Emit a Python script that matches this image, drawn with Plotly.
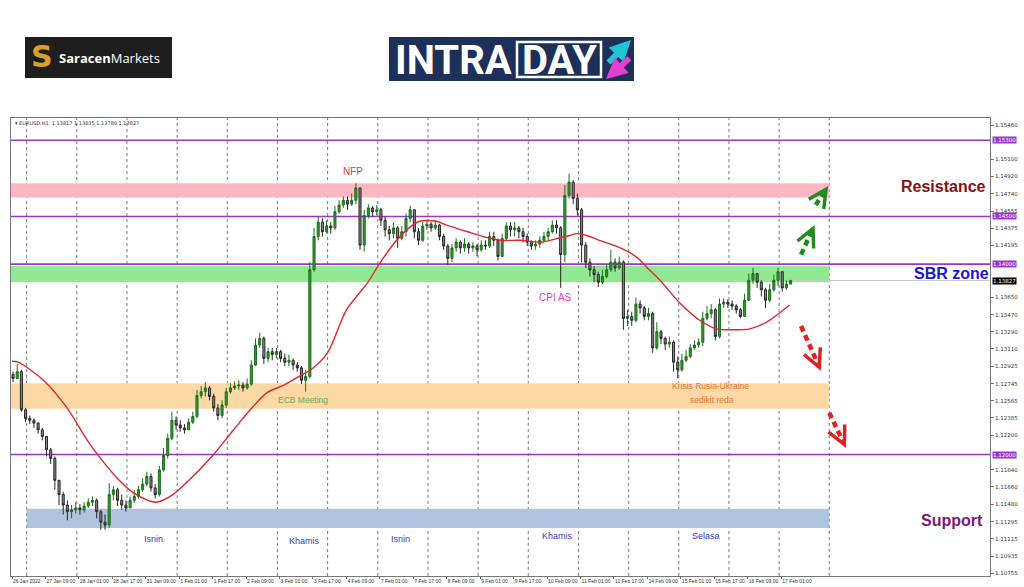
import math
import plotly.graph_objects as go

# ---------------- data ----------------
# 2-hour candles, centre of candle k sits at hourly bar index 2k+0.5
first_open = 1.1284
closes = [
    1.1280, 1.1287, 1.1247, 1.1238, 1.1236, 1.1233, 1.1226, 1.1219, 1.1205, 1.1196,
    1.1173, 1.1158, 1.1147, 1.1140, 1.1142, 1.1144, 1.1142, 1.1146, 1.1150, 1.1152,
    1.1140, 1.1129, 1.1126, 1.1158, 1.1163, 1.1152, 1.1147, 1.1144, 1.1152, 1.1156,
    1.1163, 1.1169, 1.1177, 1.1165, 1.1158, 1.1184, 1.1199, 1.1217, 1.1236, 1.1231,
    1.1228, 1.1226, 1.1234, 1.1240, 1.1262, 1.1266, 1.1270, 1.1261, 1.1249, 1.1241,
    1.1252, 1.1266, 1.1270, 1.1272, 1.1273, 1.1270, 1.1274, 1.1294, 1.1315, 1.1322,
    1.1301, 1.1308, 1.1305, 1.1308, 1.1301, 1.1297, 1.1299, 1.1294, 1.1291, 1.1278,
    1.1282, 1.1394, 1.1429, 1.1444, 1.1434, 1.1440, 1.1438, 1.1455, 1.1462, 1.1467,
    1.1463, 1.1467, 1.1480, 1.1420, 1.1451, 1.1459, 1.1455, 1.1457, 1.1446, 1.1436,
    1.1432, 1.1438, 1.1427, 1.1434, 1.1448, 1.1457, 1.1434, 1.1425, 1.1440, 1.1442,
    1.1438, 1.1441, 1.1429, 1.1419, 1.1406, 1.1417, 1.1423, 1.1417, 1.1421, 1.1417,
    1.1419, 1.1415, 1.1420, 1.1419, 1.1429, 1.1425, 1.1408, 1.1427, 1.1440, 1.1436,
    1.1438, 1.1434, 1.1429, 1.1423, 1.1419, 1.1421, 1.1425, 1.1429, 1.1434, 1.1441,
    1.1438, 1.1410, 1.1472, 1.1486, 1.1469, 1.1457, 1.1420, 1.1402, 1.1394, 1.1389,
    1.1381, 1.1387, 1.1394, 1.1402, 1.1396, 1.1402, 1.1343, 1.1345, 1.1341, 1.1358,
    1.1354, 1.1345, 1.1348, 1.1312, 1.1329, 1.1322, 1.1316, 1.1318, 1.1297, 1.1289,
    1.1299, 1.1303, 1.1312, 1.1315, 1.1318, 1.1343, 1.1348, 1.1352, 1.1324, 1.1358,
    1.1360, 1.1358, 1.1356, 1.1352, 1.1345, 1.1362, 1.1383, 1.1390, 1.1381, 1.1373,
    1.1362, 1.1373, 1.1383, 1.1392, 1.1375, 1.1379, 1.13827,
]
highs = [
    1.1287, 1.1295, 1.1289, 1.1249, 1.1241, 1.1238, 1.1234, 1.1228, 1.1219, 1.1207,
    1.1198, 1.1173, 1.1161, 1.1152, 1.1147, 1.1150, 1.1148, 1.1150, 1.1154, 1.1156,
    1.1154, 1.1142, 1.1137, 1.1170, 1.1167, 1.1165, 1.1158, 1.1152, 1.1156, 1.1163,
    1.1167, 1.1175, 1.1182, 1.1180, 1.1169, 1.1188, 1.1207, 1.1222, 1.1245, 1.1240,
    1.1236, 1.1232, 1.1238, 1.1245, 1.1268, 1.1272, 1.1276, 1.1272, 1.1264, 1.1253,
    1.1257, 1.1270, 1.1275, 1.1277, 1.1278, 1.1276, 1.1280, 1.1299, 1.1322, 1.1328,
    1.1324, 1.1312, 1.1312, 1.1312, 1.1310, 1.1306, 1.1305, 1.1301, 1.1297, 1.1293,
    1.1289, 1.1402, 1.1438, 1.1450, 1.1448, 1.1446, 1.1444, 1.1461, 1.1467, 1.1471,
    1.1471, 1.1474, 1.1485, 1.1478, 1.1457, 1.1463, 1.1461, 1.1462, 1.1459, 1.1450,
    1.1440, 1.1444, 1.1440, 1.1440, 1.1453, 1.1461, 1.1455, 1.1438, 1.1444, 1.1446,
    1.1444, 1.1446, 1.1442, 1.1432, 1.1421, 1.1421, 1.1427, 1.1425, 1.1427, 1.1423,
    1.1423, 1.1421, 1.1425, 1.1425, 1.1434, 1.1434, 1.1427, 1.1432, 1.1444, 1.1444,
    1.1444, 1.1440, 1.1438, 1.1432, 1.1425, 1.1425, 1.1429, 1.1434, 1.1438, 1.1446,
    1.1446, 1.1440, 1.1483, 1.1495, 1.1488, 1.1474, 1.1459, 1.1423, 1.1406, 1.1398,
    1.1392, 1.1394, 1.1400, 1.1415, 1.1406, 1.1408, 1.1404, 1.1352, 1.1350, 1.1365,
    1.1362, 1.1356, 1.1354, 1.1350, 1.1339, 1.1331, 1.1324, 1.1324, 1.1320, 1.1303,
    1.1306, 1.1310, 1.1316, 1.1320, 1.1322, 1.1350, 1.1356, 1.1358, 1.1354, 1.1364,
    1.1364, 1.1363, 1.1362, 1.1358, 1.1354, 1.1369, 1.1390, 1.1396, 1.1390, 1.1383,
    1.1375, 1.1379, 1.1389, 1.1396, 1.1390, 1.1383, 1.13835,
]
lows = [
    1.1276, 1.1280, 1.1245, 1.1234, 1.1232, 1.1228, 1.1222, 1.1215, 1.1198, 1.1190,
    1.1163, 1.1147, 1.1137, 1.1131, 1.1133, 1.1138, 1.1137, 1.1139, 1.1144, 1.1146,
    1.1133, 1.1121, 1.1121, 1.1123, 1.1152, 1.1146, 1.1142, 1.1140, 1.1144, 1.1149,
    1.1154, 1.1161, 1.1167, 1.1161, 1.1154, 1.1156, 1.1182, 1.1196, 1.1215, 1.1226,
    1.1224, 1.1222, 1.1226, 1.1232, 1.1238, 1.1259, 1.1261, 1.1257, 1.1245, 1.1236,
    1.1238, 1.1249, 1.1264, 1.1268, 1.1268, 1.1266, 1.1268, 1.1272, 1.1293, 1.1312,
    1.1295, 1.1297, 1.1299, 1.1301, 1.1297, 1.1293, 1.1293, 1.1289, 1.1287, 1.1274,
    1.1266, 1.1280, 1.1392, 1.1425, 1.1429, 1.1432, 1.1432, 1.1436, 1.1453, 1.1459,
    1.1457, 1.1461, 1.1463, 1.1415, 1.1413, 1.1448, 1.1450, 1.1451, 1.1440, 1.1429,
    1.1425, 1.1427, 1.1417, 1.1425, 1.1429, 1.1444, 1.1427, 1.1420, 1.1423, 1.1436,
    1.1434, 1.1436, 1.1425, 1.1415, 1.1399, 1.1402, 1.1413, 1.1411, 1.1413, 1.1411,
    1.1413, 1.1408, 1.1413, 1.1415, 1.1417, 1.1419, 1.1404, 1.1408, 1.1425, 1.1429,
    1.1429, 1.1427, 1.1423, 1.1419, 1.1415, 1.1415, 1.1417, 1.1423, 1.1425, 1.1432,
    1.1432, 1.1375, 1.1402, 1.1469, 1.1463, 1.1451, 1.1402, 1.1396, 1.1387, 1.1381,
    1.1376, 1.1379, 1.1385, 1.1392, 1.1392, 1.1394, 1.1331, 1.1335, 1.1335, 1.1339,
    1.1348, 1.1341, 1.1341, 1.1307, 1.1310, 1.1316, 1.1310, 1.1312, 1.1287, 1.1280,
    1.1287, 1.1297, 1.1301, 1.1310, 1.1312, 1.1314, 1.1341, 1.1343, 1.1320, 1.1322,
    1.1354, 1.1354, 1.1352, 1.1348, 1.1343, 1.1345, 1.1362, 1.1379, 1.1375, 1.1366,
    1.1354, 1.1360, 1.1371, 1.1377, 1.1371, 1.1373, 1.13789,
]

# moving average (red line), hourly bar index and value
ma_idx = [0, 3, 15, 26, 36, 42, 50, 58, 65, 69,
          77, 87, 96, 106, 114, 122, 130, 138, 143, 151,
          160, 170, 176, 184, 190, 195, 203, 208, 218, 227,
          234, 243, 253, 261, 267, 270, 275, 281, 290, 299,
          304, 310, 320, 329, 337, 344, 353, 361, 372]
ma_val = [1.1298, 1.1297, 1.1278, 1.1250, 1.1215, 1.1197, 1.1176, 1.1160, 1.1152, 1.1150,
          1.1158, 1.1178, 1.1199, 1.1226, 1.1247, 1.1265, 1.1273, 1.1283, 1.1289, 1.1307,
          1.1352, 1.1380, 1.1401, 1.1425, 1.1438, 1.1445, 1.1445, 1.1441, 1.1434, 1.1428,
          1.1425, 1.1425, 1.1423, 1.1427, 1.1430, 1.1432, 1.1430, 1.1425, 1.1418, 1.1407,
          1.1396, 1.1383, 1.1358, 1.1341, 1.1332, 1.1331, 1.1332, 1.1339, 1.1357]

time_labels = ["26 Jan 2022", "27 Jan 09:00", "28 Jan 01:00", "28 Jan 17:00", "31 Jan 09:00",
               "1 Feb 01:00", "1 Feb 17:00", "2 Feb 09:00", "3 Feb 01:00", "3 Feb 17:00",
               "4 Feb 09:00", "7 Feb 01:00", "7 Feb 17:00", "8 Feb 09:00", "9 Feb 01:00",
               "9 Feb 17:00", "10 Feb 09:00", "11 Feb 01:00", "11 Feb 17:00", "14 Feb 09:00",
               "15 Feb 01:00", "15 Feb 17:00", "16 Feb 09:00", "17 Feb 01:00"]
price_ticks = [1.15460, 1.15100, 1.14920, 1.14740, 1.14555, 1.14375, 1.14195, 1.13650,
               1.13470, 1.13290, 1.13110, 1.12925, 1.12745, 1.12565, 1.12385, 1.12200,
               1.11840, 1.11660, 1.11480, 1.11295, 1.11115, 1.10935, 1.10755]
level_lines = [1.15300, 1.14500, 1.14000, 1.12000]
last_price = 1.13827

zone_low = [1.1470, 1.1381, 1.1248, 1.1123]
zone_high = [1.1485, 1.1398, 1.1275, 1.1143]
zone_start = [-0.5, -0.5, -0.5, 7]
zone_end = 391

# ---------------- layout helpers ----------------
W, H = 1024, 587
L, R, T, B = 11, 34, 118, 11
X_RANGE = [-0.48, 467.9]
Y_RANGE = [1.10725, 1.15534]
PLOT_W = W - L - R
PLOT_H = H - T - B
SX = PLOT_W / (X_RANGE[1] - X_RANGE[0])   # pixels per bar
SY = PLOT_H / (Y_RANGE[1] - Y_RANGE[0])   # pixels per price unit


def px(x):
    return (x - L) / PLOT_W


def py(y):
    return (H - B - y) / PLOT_H


n = min(len(closes), len(highs), len(lows))
xs = [2 * k + 0.5 for k in range(n)]
opens = [first_open] + closes[:n - 1]
hi = [max(highs[k], opens[k], closes[k]) for k in range(n)]
lo = [min(lows[k], opens[k], closes[k]) for k in range(n)]

fig = go.Figure()

fig.add_trace(go.Candlestick(
    x=xs, open=opens, high=hi, low=lo, close=closes[:n],
    increasing=dict(line=dict(color="#1b6e1b", width=1), fillcolor="#2f9a2f"),
    decreasing=dict(line=dict(color="#262626", width=1), fillcolor="#8a8a8a"),
    whiskerwidth=0, showlegend=False, hoverinfo="skip",
))

fig.add_trace(go.Scatter(
    x=ma_idx, y=ma_val, mode="lines",
    line=dict(color="#e3262b", width=1.4, shape="spline", smoothing=0.8),
    showlegend=False, hoverinfo="skip",
))

shapes = []
zone_colors = ["#ffb8c2", "#90e890", "#fcd8a4", "#aec3de"]
for lo_, hi_, x0, c in zip(zone_low, zone_high, zone_start, zone_colors):
    shapes.append(dict(type="rect", xref="x", yref="y", x0=x0, x1=zone_end, y0=lo_, y1=hi_,
                       fillcolor=c, line=dict(width=0), layer="below"))
# day separators
for k in range(17):
    gx = 7 + 24 * k
    shapes.append(dict(type="line", xref="x", yref="paper", x0=gx, x1=gx, y0=0, y1=1,
                       line=dict(color="#7a7a7a", width=1, dash="dot"), layer="below"))
for lv in level_lines:
    shapes.append(dict(type="line", xref="paper", yref="y", x0=0, x1=1, y0=lv, y1=lv,
                       line=dict(color="#9a34cf", width=1.6), layer="below"))
shapes.append(dict(type="line", xref="x", yref="y", x0=xs[-1], x1=X_RANGE[1], y0=last_price,
                   y1=last_price, line=dict(color="#c8c8c8", width=1), layer="below"))

# dashed scenario arrows (start idx, start price, tip idx, tip price, colour)
arrows = [
    (377.5, 1.1410, 384.0, 1.1441, "#1e8c1e"),
    (384.5, 1.1462, 390.5, 1.1482, "#1e8c1e"),
    (377.5, 1.1335, 387.0, 1.1288, "#e3201f"),
    (391.0, 1.1244, 399.0, 1.1207, "#e3201f"),
]
annotations = []
for x0, y0, x1, y1, c in arrows:
    dxp = (x1 - x0) * SX
    dyp = -(y1 - y0) * SY
    ln = math.hypot(dxp, dyp)
    ux, uy = dxp / ln, dyp / ln
    tail = 9.0
    xm = x1 - tail * ux / SX
    ym = y1 + tail * uy / SY
    shapes.append(dict(type="line", xref="x", yref="y", x0=x0, y0=y0, x1=xm, y1=ym,
                       line=dict(color=c, width=4.5, dash="6px,4px")))
    annotations.append(dict(x=x1, y=y1, ax=-tail * ux, ay=-tail * uy, xref="x", yref="y",
                            text="", showarrow=True, arrowhead=5, arrowsize=1.0,
                            arrowwidth=3.5, arrowcolor=c, standoff=0))

# logos (pixel positions converted to paper)
shapes.append(dict(type="rect", xref="paper", yref="paper", x0=px(25), x1=px(172), y0=py(78),
                   y1=py(37), fillcolor="#1e1e1e", line=dict(width=0)))
shapes.append(dict(type="rect", xref="paper", yref="paper", x0=px(389), x1=px(634), y0=py(81),
                   y1=py(37), fillcolor="#1c3059", line=dict(width=0)))
shapes.append(dict(type="rect", xref="paper", yref="paper", x0=px(517), x1=px(601), y0=py(77),
                   y1=py(42), fillcolor="#1c3059", line=dict(color="white", width=2.5)))


def txt(text, x, y, size, color, xanchor="center", family="Liberation Sans", weight="normal",
        yanchor="middle"):
    return dict(text=text, x=x, y=y, xref="paper", yref="paper", showarrow=False,
                xanchor=xanchor, yanchor=yanchor,
                font=dict(size=size, color=color, family=family, weight=weight))


annotations += [
    txt("S", px(42), py(57), 30, "#d9a127", family="DejaVu Sans", weight="bold"),
    txt("<b>Saracen</b>Markets", px(57), py(58), 13, "white", xanchor="left", family="Open Sans"),
    txt("INTRA", px(393), py(60), 40, "white", xanchor="left", family="Roboto", weight="bold"),
    txt("DAY", px(559), py(60), 40, "white", family="Roboto", weight="bold"),
    txt("▾ EURUSD,H1  1.13817 1.13835 1.13789 1.13827", px(13), py(123), 5, "#333333",
        xanchor="left", family="DejaVu Sans"),
]
# INTRADAY icon arrows (pixel offsets for the tails)
annotations.append(dict(x=px(631), y=py(40), ax=-24, ay=24, xref="paper", yref="paper",
                        text="", showarrow=True, arrowhead=2,
                        arrowsize=0.7, arrowwidth=6, arrowcolor="#25c2d4"))
annotations.append(dict(x=px(606), y=py(79), ax=25, ay=-22, xref="paper", yref="paper",
                        text="", showarrow=True, arrowhead=2,
                        arrowsize=0.7, arrowwidth=6, arrowcolor="#e33fd1"))

# price boxes on the axis
for lv in level_lines:
    annotations.append(dict(text=f"{lv:.5f}", x=1.0, y=lv, xref="paper", yref="y",
                            xshift=2, xanchor="left", showarrow=False, bgcolor="#9a34cf",
                            borderpad=0, font=dict(size=5.5, color="white", family="DejaVu Sans")))
annotations.append(dict(text=f"{last_price:.5f}", x=1.0, y=last_price, xref="paper", yref="y",
                        xshift=2, xanchor="left", showarrow=False, bgcolor="#000000",
                        borderpad=0, font=dict(size=5.5, color="white", family="DejaVu Sans")))


def dtxt(text, x, y, size, color, weight="normal", family="Liberation Sans"):
    return dict(text=text, x=x, y=y, xref="x", yref="y", showarrow=False,
                font=dict(size=size, color=color, family=family, weight=weight))


annotations += [
    dtxt("NFP", 163, 1.1497, 10, "#d8403a"),
    dtxt("CPI AS", 260, 1.1365, 10, "#e03ec6"),
    dtxt("ECB Meeting", 139, 1.1257, 8.5, "#6aa84f"),
    dtxt("Krisis Rusia-Ukraine", 334, 1.1272, 8.5, "#e8773a"),
    dtxt("sedikit reda", 335, 1.1257, 8.5, "#e8773a"),
    dtxt("Isnin", 67.5, 1.1111, 9, "#3a3ac8"),
    dtxt("Khamis", 140, 1.1109, 9, "#3a3ac8"),
    dtxt("Isnin", 186, 1.1111, 9, "#3a3ac8"),
    dtxt("Khamis", 261, 1.1114, 9, "#3a3ac8"),
    dtxt("Selasa", 332, 1.1114, 9, "#3a3ac8"),
    dtxt("Resistance", 445.5, 1.1481, 16, "#8b0f0f", weight="bold"),
    dtxt("SBR zone", 449.5, 1.1390, 16, "#1717d2", weight="bold"),
    dtxt("Support", 449.5, 1.1131, 16, "#7d167d", weight="bold"),
]

fig.update_layout(
    width=W, height=H, template="none",
    margin=dict(l=L, r=R, t=T, b=B, pad=0),
    paper_bgcolor="white", plot_bgcolor="white",
    shapes=shapes, annotations=annotations, showlegend=False,
    xaxis=dict(range=X_RANGE, rangeslider=dict(visible=False), showgrid=False, zeroline=False,
               tickmode="array", tickvals=[16 * j for j in range(len(time_labels))],
               ticktext=time_labels, tickangle=0,
               tickfont=dict(size=5, color="#333333", family="Liberation Sans"),
               ticks="outside", ticklen=2, tickcolor="#777777", ticklabelposition="outside right",
               showline=True, linecolor="#777777", linewidth=1, mirror=True, automargin=False),
    yaxis=dict(range=Y_RANGE, side="right", showgrid=False, zeroline=False,
               tickmode="array", tickvals=price_ticks, ticktext=[f"{v:.5f}" for v in price_ticks],
               tickfont=dict(size=5.5, color="#333333", family="DejaVu Sans"),
               ticks="outside", ticklen=3, tickcolor="#777777",
               showline=True, linecolor="#777777", linewidth=1, mirror=True, automargin=False),
)

fig.write_html("out.html", config={"displayModeBar": False},
               post_script="document.body.style.margin='0';")
